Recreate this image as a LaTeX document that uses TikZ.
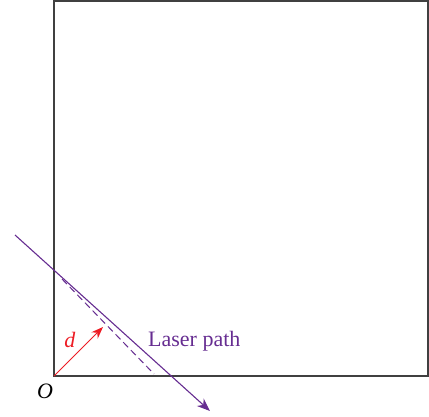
\documentclass[tikz,border=0pt]{standalone}
\usepackage{fontspec}
\setmainfont{Liberation Serif}
\usetikzlibrary{arrows.meta}
\definecolor{laser}{RGB}{102,45,145}
\definecolor{dred}{RGB}{237,28,36}
\begin{document}
\begin{tikzpicture}[x=1pt,y=1pt,
  frame/.style={draw=black!75,line width=1.8pt},
  beam/.style={draw=laser,line width=1.1pt,-{Stealth[length=13pt,width=10pt,inset=4pt]}},
  dashref/.style={draw=laser,line width=1pt,dash pattern=on 7pt off 4pt},
  darrow/.style={draw=dred,line width=1pt,-{Stealth[length=12pt,width=9pt,inset=4pt]}},
  lbl/.style={font=\fontsize{22}{26}\selectfont,inner sep=0pt}]
\useasboundingbox (0,0) rectangle (429,416);
\coordinate (O) at (54,40);
\coordinate (TR) at (428,415);
\draw[frame] (O) rectangle (TR);
\coordinate (ls) at (15,181);
\coordinate (le) at (210,5);
\draw[beam] (ls) -- (le);
\coordinate (ds) at (62,137);
\coordinate (de) at (154,42);
\draw[dashref] (ds) -- (de);
\coordinate (dt) at (103,89);
\draw[darrow] (O) -- (dt);
\node[lbl,text=dred,anchor=center] (dlab) at (70,76) {\textit{d}};
\node[lbl,text=laser,anchor=base west] (lp) at (148,69.3) {Laser path};
\node[lbl,anchor=center] (Olab) at (45,25) {\textit{O}};
\end{tikzpicture}
\end{document}
